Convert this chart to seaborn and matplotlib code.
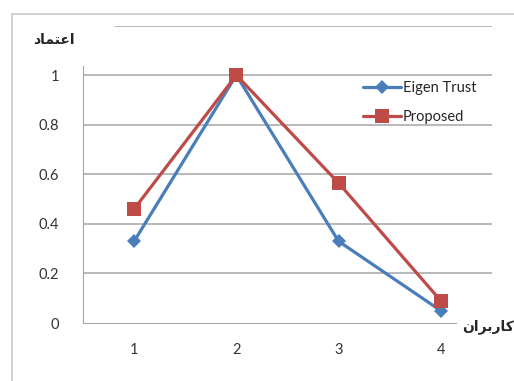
import numpy as np
import pandas as pd
import matplotlib
matplotlib.use("Agg")
import matplotlib.pyplot as plt
import seaborn as sns

# valeurs
users = [1, 2, 3, 4]
eigen_trust = [0.33, 1.0, 0.33, 0.05]
proposed = [0.46, 1.0, 0.565, 0.09]
y_ticks = [0, 0.2, 0.4, 0.6, 0.8, 1]
y_tick_labels = ["0", "0.2", "0.4", "0.6", "0.8", "1"]
series_names = ["Eigen Trust", "Proposed"]

# textes persans (formes de presentation, ordre visuel)
y_label = "\uFEA9\uFE8E\uFEE4\uFE98\uFECB\uFE8D"          # اعتماد
x_label = "\uFEE5\uFE8D\uFEAE\uFE91\uFEAD\uFE8E\uFEDB"    # کاربران

df = pd.DataFrame({
    "user": users * 2,
    "trust": eigen_trust + proposed,
    "method": [series_names[0]] * 4 + [series_names[1]] * 4,
})

sns.set_style("white")
plt.rcParams["font.family"] = ["Lato", "DejaVu Sans"]

fig = plt.figure(figsize=(5.14, 3.81), dpi=100)
ax = fig.add_axes([0.1615, 0.152, 0.7955, 0.781])

grid_col = "#a6a6a6"

sns.lineplot(data=df, x="user", y="trust", hue="method", style="method",
             markers=["D", "s"], dashes=False, palette=["#4a7ebb", "#be4b48"],
             linewidth=2.3, markeredgewidth=0, ax=ax, legend=True, zorder=3)

# tailles des marqueurs (Eigen Trust, Proposed)
sizes = [7.5, 9.5]
for line, s in zip(ax.get_lines()[:2], sizes):
    line.set_markersize(s)

for v in y_ticks[1:]:
    ax.axhline(v, color=grid_col, lw=1.1, zorder=0)
ax.axhline(1.2, xmin=0.078, color=grid_col, lw=1.1, zorder=0)

ax.set_xlim(0.5, 4.5)
ax.set_ylim(0, 1.2)
ax.set_yticks(y_ticks)
ax.set_yticklabels(y_tick_labels)
ax.set_xticks(users)
ax.set_xticklabels([str(u) for u in users])
ax.set_xticks([1.5, 2.5, 3.5], minor=True)
ax.tick_params(axis="x", which="major", length=0, pad=14, labelsize=10.5, colors="#333333")
ax.tick_params(axis="x", which="minor", length=4, direction="out", color=grid_col, width=1)
ax.tick_params(axis="y", length=5, direction="out", color=grid_col, width=1,
               pad=12, labelsize=10.5, colors="#333333")
ax.set_xlabel("")
ax.set_ylabel("")

for s in ["top", "right"]:
    ax.spines[s].set_visible(False)
ax.spines["left"].set_color(grid_col)
ax.spines["bottom"].set_color(grid_col)
ax.spines["left"].set_bounds(0, 1.035)
ax.spines["bottom"].set_bounds(0.5, 4.15)

handles, labels = ax.get_legend_handles_labels()
for h, s in zip(handles, sizes):
    h.set_markersize(s)
    h.set_linewidth(2.3)
ax.legend(handles, labels, loc="center left", bbox_to_anchor=(0.706, 0.731),
          bbox_transform=fig.transFigure, frameon=False, fontsize=10.5,
          handlelength=2.6, handletextpad=0.15, labelspacing=1.0,
          borderpad=0, borderaxespad=0)

fig.text(0.065, 0.895, y_label, fontsize=10, fontweight="bold",
         family="DejaVu Sans", va="center", ha="left")
fig.text(0.9, 0.142, x_label, fontsize=10, fontweight="bold",
         family="DejaVu Sans", va="center", ha="left")

# cadre exterieur du graphique
frame = plt.Rectangle((12 / 514, -0.01), 1.0, 1 - 14 / 381 + 0.01,
                      transform=fig.transFigure, fill=False,
                      edgecolor="#c8c8c8", lw=1.2)
fig.add_artist(frame)

fig.savefig("out.png", dpi=100)
